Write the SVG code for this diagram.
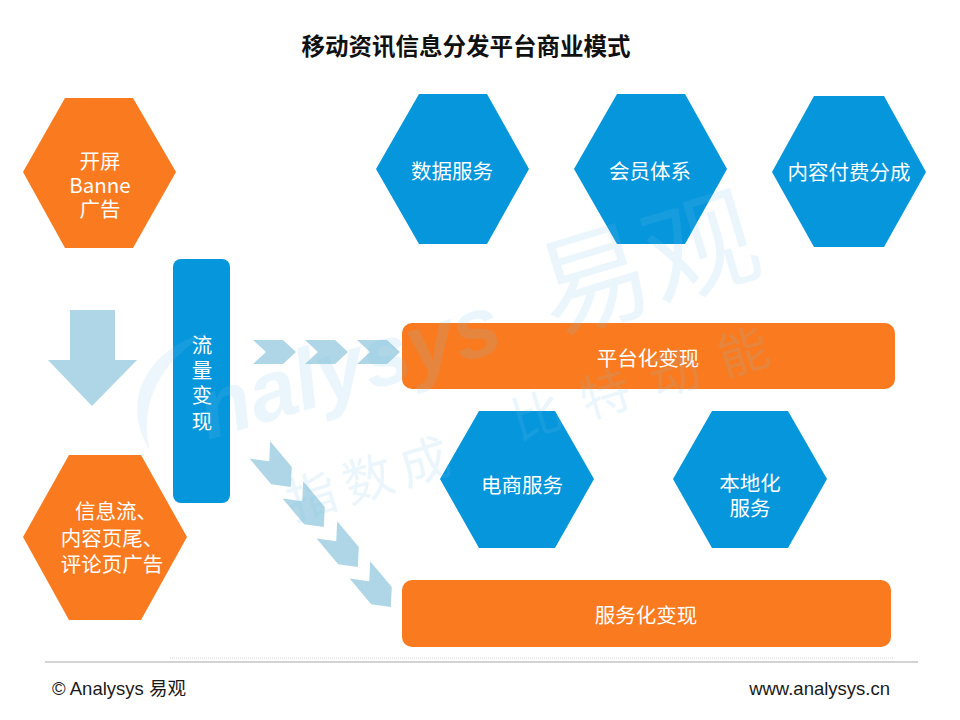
<svg xmlns="http://www.w3.org/2000/svg" width="960" height="720" viewBox="0 0 960 720">
  <style>
    .orange { fill: #F97A1F; }
    .blue { fill: #0596DB; }
    .flow { fill: #AFD6E6; }
    .lbl { fill: #FFFFFF; font-family: "Noto Sans CJK SC", "Liberation Sans", sans-serif; font-size: 20.5px; text-anchor: middle; dominant-baseline: central; }
    .title { fill: #111111; font-family: "Noto Sans CJK SC", "Liberation Sans", sans-serif; font-size: 23.5px; font-weight: bold; text-anchor: middle; dominant-baseline: central; }
    .foot { fill: #1A1A1A; font-family: "Liberation Sans", "Noto Sans CJK SC", sans-serif; font-size: 18.5px; dominant-baseline: central; }
    .wm { fill: #7FC4EE; opacity: 0.15; }
    .wmtxt { font-family: "Liberation Sans", "Noto Sans CJK SC", sans-serif; font-style: italic; font-weight: bold; }
    .wmcjk { font-family: "Noto Sans CJK SC", sans-serif; }
  </style>
  <defs>
    <path id="chev" d="M-21,-12 H9 L22,0 L9,12 H-21 L-8,0 Z"/>
  </defs>
  <rect width="960" height="720" fill="#FFFFFF"/>

  <text class="title" x="466" y="45">移动资讯信息分发平台商业模式</text>

  <g id="connectors">
    <polygon class="flow" points="70,310 115,310 115,360 137,360 92,406 48,360 70,360"/>
    <use href="#chev" class="flow" transform="translate(274,352)"/>
    <use href="#chev" class="flow" transform="translate(326,352)"/>
    <use href="#chev" class="flow" transform="translate(378,352)"/>
    <use href="#chev" class="flow" transform="translate(275,468) rotate(50) scale(1.12)"/>
    <use href="#chev" class="flow" transform="translate(308,508) rotate(50) scale(1.12)"/>
    <use href="#chev" class="flow" transform="translate(342,548) rotate(50) scale(1.12)"/>
    <use href="#chev" class="flow" transform="translate(375,588) rotate(50) scale(1.12)"/>
  </g>

  <g id="node-kaiping">
    <polygon class="orange" points="65,98 133,98 176,172 133,248 65,248 23,172"/>
    <text class="lbl"><tspan x="100" y="160">开屏</tspan><tspan x="100" y="184">Banne</tspan><tspan x="100" y="208">广告</tspan></text>
  </g>

  <g id="node-xinxiliu">
    <polygon class="orange" points="69,455 141,455 187,537 141,620 69,620 23,537"/>
    <text class="lbl"><tspan x="116" y="510">信息流、</tspan><tspan x="112" y="537">内容页尾、</tspan><tspan x="112" y="563">评论页广告</tspan></text>
  </g>

  <g id="node-liuliang">
    <rect class="blue" x="173" y="259" width="57" height="244" rx="8"/>
    <text class="lbl"><tspan x="202" y="344">流</tspan><tspan x="202" y="369">量</tspan><tspan x="202" y="394">变</tspan><tspan x="202" y="420">现</tspan></text>
  </g>

  <g id="node-shuju">
    <polygon class="blue" points="419,94 487,94 529,169 487,244 419,244 376,169"/>
    <text class="lbl" x="452" y="170">数据服务</text>
  </g>

  <g id="node-huiyuan">
    <polygon class="blue" points="617,94 685,94 727,169 685,244 617,244 574,169"/>
    <text class="lbl" x="650" y="170">会员体系</text>
  </g>

  <g id="node-neirong">
    <polygon class="blue" points="814,96 884,96 926,172 884,247 814,247 772,172"/>
    <text class="lbl" x="849" y="171">内容付费分成</text>
  </g>

  <g id="node-pingtai">
    <rect class="orange" x="402" y="323" width="493" height="66" rx="10"/>
    <text class="lbl" x="648" y="357">平台化变现</text>
  </g>

  <g id="node-dianshang">
    <polygon class="blue" points="479,411 555,411 594,479 555,548 479,548 440,479"/>
    <text class="lbl" x="522" y="484">电商服务</text>
  </g>

  <g id="node-bendi">
    <polygon class="blue" points="712,411 788,411 827,479 788,548 712,548 673,479"/>
    <text class="lbl"><tspan x="750" y="482">本地化</tspan><tspan x="750" y="507">服务</tspan></text>
  </g>

  <g id="node-fuwu">
    <rect class="orange" x="402" y="580" width="489" height="67" rx="10"/>
    <text class="lbl" x="646" y="614">服务化变现</text>
  </g>

  <g id="watermark">
    <path class="wm" d="M210,332 C150,345 118,400 150,450 C138,405 160,360 210,332 Z"/>
    <text class="wm wmtxt" x="208" y="440" font-size="85" transform="rotate(-17 208 440)">nalysys</text>
    <text class="wm wmcjk" x="552" y="335" font-size="112" transform="rotate(-17 552 335)">易观</text>
    <text class="wm wmcjk" x="293" y="521" font-size="50" letter-spacing="9" transform="rotate(-17 293 521)">指数成</text>
    <text class="wm wmcjk" x="518" y="440" font-size="50" letter-spacing="22" transform="rotate(-17 518 440)">比特动能</text>
  </g>

  <g id="footer">
    <line x1="170" y1="658" x2="894" y2="658" stroke="#D6D6D6" stroke-width="1" stroke-dasharray="1 1"/>
    <line x1="45" y1="662" x2="918" y2="662" stroke="#A8A8A8" stroke-width="1.2"/>
    <text class="foot" x="52" y="688">© Analysys 易观</text>
    <text class="foot" x="890" y="688" text-anchor="end">www.analysys.cn</text>
  </g>
</svg>
